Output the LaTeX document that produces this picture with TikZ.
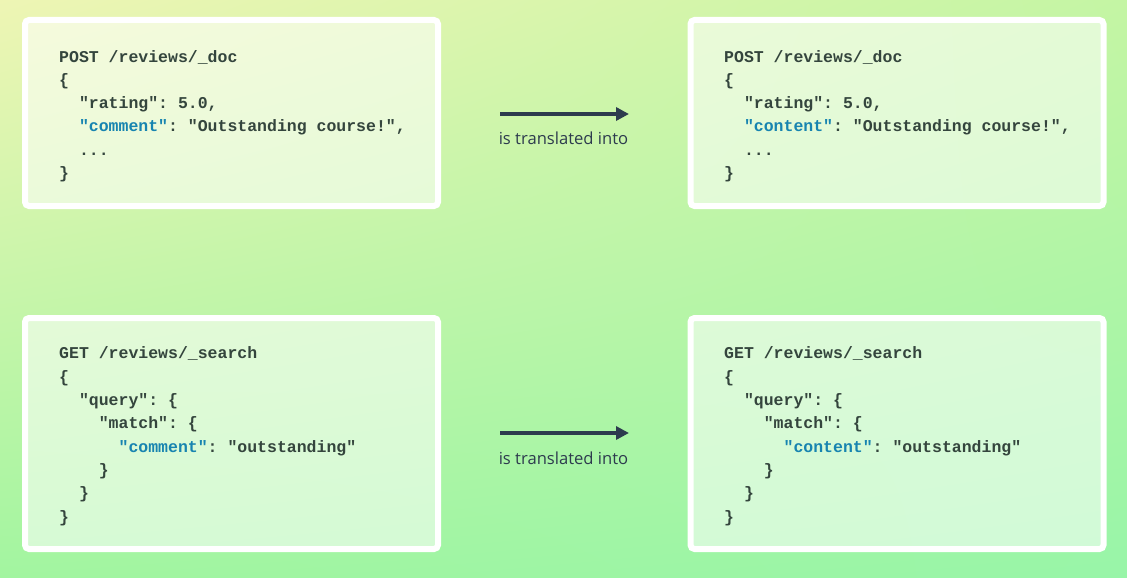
\documentclass[tikz,border=0pt]{standalone}
\usepackage{fontspec}
\setmonofont{Liberation Mono}
\newfontfamily\lblfont{Open Sans}
\usetikzlibrary{arrows.meta,shadings}
\definecolor{bgTL}{HTML}{EEF5B4}
\definecolor{bgTR}{HTML}{C4F5A4}
\definecolor{bgBL}{HTML}{A2F5A0}
\definecolor{bgBR}{HTML}{98F5A8}
\definecolor{codec}{HTML}{34453D}
\definecolor{keyc}{HTML}{1784B0}
\definecolor{arrc}{HTML}{2D3B4E}
\newcommand{\kw}[1]{\textcolor{keyc}{#1}}
\newcommand{\ind}[1]{\phantom{#1}}
\begin{document}
\begin{tikzpicture}[x=1pt,y=-1pt,
  box/.style={draw=white, line width=6pt, fill=white, fill opacity=0.55, draw opacity=1, rounded corners=4pt, inner sep=0, minimum width=413pt},
  code/.style={font=\ttfamily\bfseries\fontsize{16.5}{23.3}\selectfont, text=codec, align=left, inner sep=0, anchor=base west},
  arrowst/.style={draw=arrc, line width=4pt, -{Triangle[length=13pt,width=13pt]}},
  lbl/.style={font=\lblfont\fontsize{16.6}{19}\selectfont, text=arrc, inner sep=0}]
\shade[upper left=bgTL, upper right=bgTR, lower left=bgBL, lower right=bgBR] (0,0) rectangle (1127,578);
\useasboundingbox (0,0) rectangle (1127,578);
% boxes
\node[box, minimum height=186pt] (b1) at (231.5,113) {};
\node[box, minimum height=186pt] (b2) at (897,113) {};
\node[box, minimum height=231pt] (b3) at (231.5,433.5) {};
\node[box, minimum height=231pt] (b4) at (897,433.5) {};
% code (anchored at the baseline of the last line)
\node[code] (c1) at (59,178.5) {POST /reviews/\_doc\\
\{\\
\ind{MM}"rating": 5.0,\\
\ind{MM}\kw{"comment"}: "Outstanding course!",\\
\ind{MM}...\\
\}};
\node[code] (c2) at (724,178.5) {POST /reviews/\_doc\\
\{\\
\ind{MM}"rating": 5.0,\\
\ind{MM}\kw{"content"}: "Outstanding course!",\\
\ind{MM}...\\
\}};
\node[code] (c3) at (59,522) {GET /reviews/\_search\\
\{\\
\ind{MM}"query": \{\\
\ind{MMMM}"match": \{\\
\ind{MMMMMM}\kw{"comment"}: "outstanding"\\
\ind{MMMM}\}\\
\ind{MM}\}\\
\}};
\node[code] (c4) at (724,522) {GET /reviews/\_search\\
\{\\
\ind{MM}"query": \{\\
\ind{MMMM}"match": \{\\
\ind{MMMMMM}\kw{"content"}: "outstanding"\\
\ind{MMMM}\}\\
\ind{MM}\}\\
\}};
% arrows
\coordinate (a1s) at (500,114);
\coordinate (a1e) at (629,114);
\coordinate (a2s) at (500,433);
\coordinate (a2e) at (629,433);
\draw[arrowst] (a1s) -- (a1e);
\draw[arrowst] (a2s) -- (a2e);
\node[lbl] (t1) at (563.5,138) {is translated into};
\node[lbl] (t2) at (563.5,458) {is translated into};
\end{tikzpicture}
\end{document}
